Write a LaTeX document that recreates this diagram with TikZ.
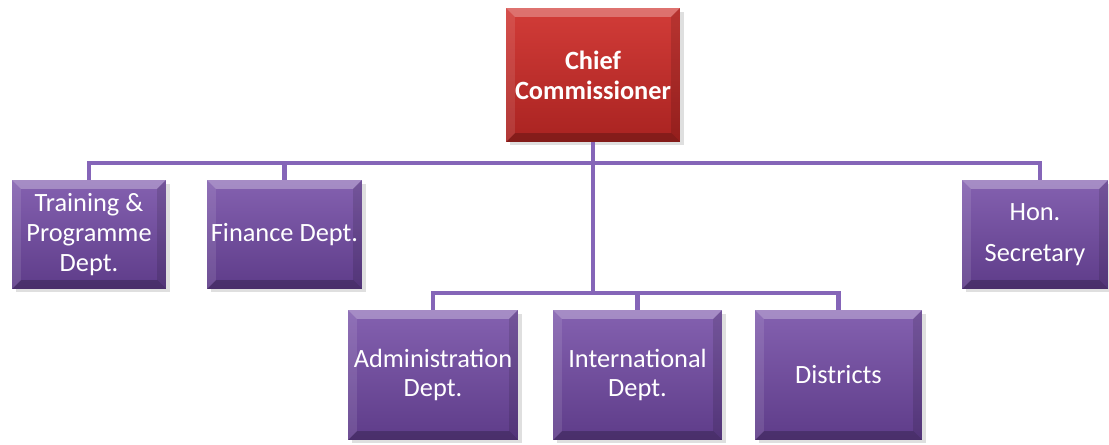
\documentclass[tikz,border=0pt]{standalone}
\usepackage{fontspec}
\setmainfont{Carlito}
\usetikzlibrary{shadows}
\definecolor{wire}{HTML}{8565B8}
\definecolor{purpletop}{HTML}{8461B0}
\definecolor{purplebot}{HTML}{5E3C89}
\definecolor{redtop}{HTML}{D23C38}
\definecolor{redbot}{HTML}{A92321}
\tikzset{
  bevel/.style={path picture={
    \fill[white,opacity=.28] (path picture bounding box.north west) -- (path picture bounding box.north east)
      -- ([shift={(-5pt,-5pt)}]path picture bounding box.north east) -- ([shift={(5pt,-5pt)}]path picture bounding box.north west) -- cycle;
    \fill[black,opacity=.22] (path picture bounding box.south west) -- (path picture bounding box.south east)
      -- ([shift={(-5pt,5pt)}]path picture bounding box.south east) -- ([shift={(5pt,5pt)}]path picture bounding box.south west) -- cycle;
    \fill[white,opacity=.10] (path picture bounding box.north west) -- (path picture bounding box.south west)
      -- ([shift={(5pt,5pt)}]path picture bounding box.south west) -- ([shift={(5pt,-5pt)}]path picture bounding box.north west) -- cycle;
    \fill[black,opacity=.12] (path picture bounding box.north east) -- (path picture bounding box.south east)
      -- ([shift={(-5pt,5pt)}]path picture bounding box.south east) -- ([shift={(-5pt,-5pt)}]path picture bounding box.north east) -- cycle;
  }},
  dept/.style={bevel, top color=purpletop, bottom color=purplebot, text=white, align=center,
    inner sep=1pt, font=\fontsize{15}{17}\selectfont,
    drop shadow={opacity=.25, shadow xshift=2pt, shadow yshift=-2pt}},
  head/.style={dept, top color=redtop, bottom color=redbot, font=\fontsize{15}{17}\selectfont\bfseries},
  wiring/.style={wire, line width=2.8pt}
}
\begin{document}
\begin{tikzpicture}[x=0.02cm, y=-0.02cm]
  \useasboundingbox (0,0) rectangle (1109,445);
  \node[head, minimum width=3.48cm, minimum height=2.68cm] (chief) at (593,75) {Chief\\Commissioner};
  \node[dept, minimum width=3.08cm, minimum height=2.18cm] (train) at (89,234.5) {Training \&\\Programme\\Dept.};
  \node[dept, minimum width=3.10cm, minimum height=2.18cm] (fin) at (284.5,234.5) {Finance Dept.};
  \node[dept, minimum width=2.92cm, minimum height=2.18cm] (hon) at (1035,234.5) {Hon.\\[6pt]Secretary};
  \node[dept, minimum width=3.40cm, minimum height=2.60cm] (admin) at (433,375) {Administration\\Dept.};
  \node[dept, minimum width=3.38cm, minimum height=2.60cm] (intl) at (637.5,375) {International\\Dept.};
  \node[dept, minimum width=3.34cm, minimum height=2.60cm] (dist) at (838.5,375) {Districts};

  \coordinate (bus1) at (593,163);
  \coordinate (bus2) at (593,293);
  \draw[wiring] (chief.south) -- (bus2);
  \draw[wiring] (train.north) |- (bus1) -| ([xshift=0.1cm]hon.north);
  \draw[wiring] (fin.north) -- (fin.north |- bus1);
  \draw[wiring] (admin.north) |- (bus2) -| (dist.north);
  \draw[wiring] (intl.north) -- (intl.north |- bus2);
\end{tikzpicture}
\end{document}
